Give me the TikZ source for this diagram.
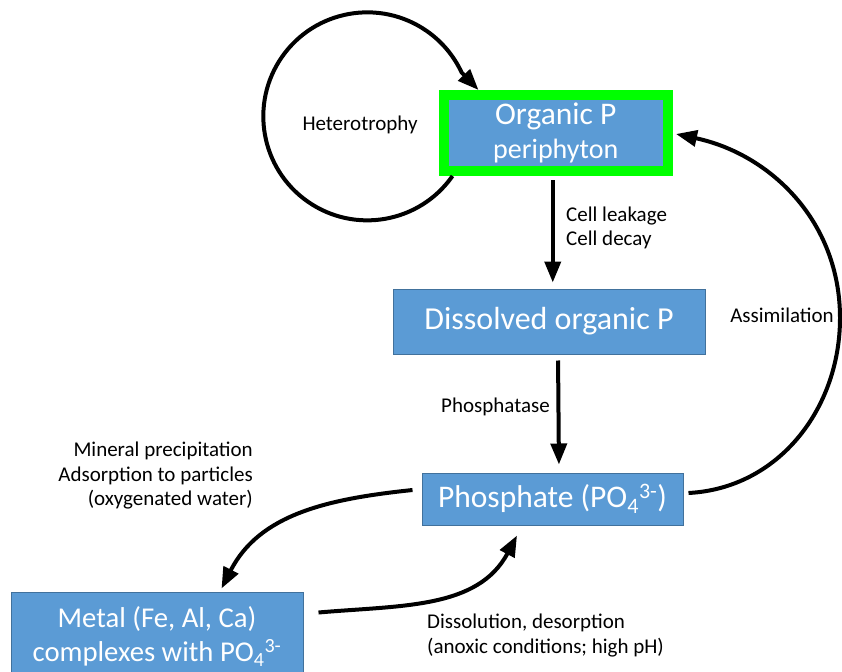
\documentclass[tikz,border=0pt]{standalone}
\usepackage{fontspec}
\setmainfont{Carlito}
\usetikzlibrary{arrows.meta}

\definecolor{boxblue}{RGB}{91,155,213}
\definecolor{boxedge}{RGB}{65,113,156}
\definecolor{brightgreen}{RGB}{0,255,0}

\tikzstyle{pool}=[rectangle, fill=boxblue, draw=boxedge, line width=1pt, text=white, align=center, inner sep=0pt, font=\fontsize{31.5}{36}\selectfont]
\tikzstyle{flow}=[-{Triangle[length=21pt,width=16pt]}, line width=4pt]
\tikzstyle{lbl}=[inner sep=0pt, font=\fontsize{21}{24.5}\selectfont]

\begin{document}
\begin{tikzpicture}[x=1pt, y=1pt]

	\useasboundingbox (0,0) rectangle (842,-671);
	\clip (0,0) rectangle (842,-671);

	\node (orgP) at (555.75,-133) [pool, draw=brightgreen, line width=10pt, minimum width=224.5pt, minimum height=76pt] {Organic P\\[-2pt]{\fontsize{28}{32}\selectfont periphyton}};
	\node (DOP) at (549,-321.5) [pool, minimum width=312pt, minimum height=65pt, font=\fontsize{32}{36}\selectfont] {Dissolved organic P};
	\node (phos) at (552.5,-499) [pool, minimum width=261pt, minimum height=52pt] {Phosphate (PO\textsubscript{4}\textsuperscript{3-})};
	\node (metal) at (157,-636.5) [pool, minimum width=292pt, minimum height=89pt, font=\fontsize{28.7}{34}\selectfont] {Metal (Fe, Al, Ca)\\complexes with PO\textsubscript{4}\textsuperscript{3-}};

	\node (hetero) at (360,-125) [lbl] {Heterotrophy};
	\node (leak) at (566,-228) [lbl, anchor=west, align=left] {Cell leakage\\Cell decay};
	\node (ptase) at (550,-407) [lbl, anchor=east] {Phosphatase};
	\node (assim) at (782,-315) [lbl] {Assimilation};
	\node (precip) at (253,-476) [lbl, anchor=east, align=right] {Mineral precipitation\\Adsorption to particles\\(oxygenated water)};
	\node (dissol) at (427,-635.5) [lbl, anchor=west, align=left] {Dissolution, desorption\\(anoxic conditions; high pH)};

	% heterotrophy loop
	\draw[flow] ([xshift=14pt]orgP.south west) arc[start angle=-35, end angle=-335, radius=104] -- ([xshift=40pt]orgP.north west);
	\draw[flow, shorten <=4pt, shorten >=6pt] ([xshift=-3pt]orgP.south) -- ([xshift=-3pt]orgP.south |- DOP.north);
	\draw[flow, shorten <=6pt, shorten >=8pt] ([xshift=9pt]DOP.south) -- ([xshift=6.5pt]phos.north);
	\draw[flow] ([shift={(5pt,6pt)}]phos.east) to[out=3, in=-90] (840,-318) to[out=90, in=-12] ([shift={(3pt,-1pt)}]orgP.east);
	\draw[flow] ([shift={(-9pt,9pt)}]phos.west) to[out=186, in=63] ([shift={(64.5pt,3pt)}]metal.north);
	\draw[flow] ([shift={(15pt,24pt)}]metal.east) to[out=5, in=-118] ([shift={(-35.5pt,-10pt)}]phos.south);

\end{tikzpicture}
\end{document}
